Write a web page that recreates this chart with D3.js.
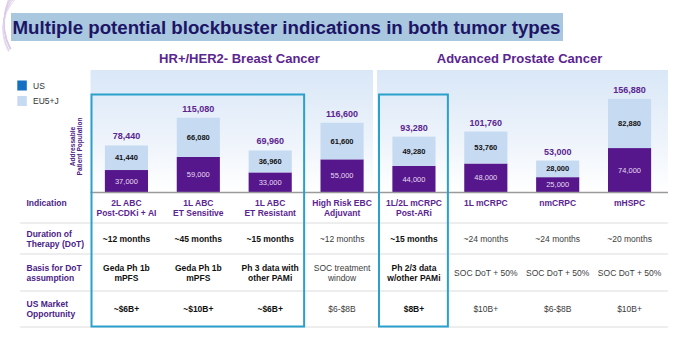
<!DOCTYPE html>
<html>
<head>
<meta charset="utf-8">
<script src="https://cdn.jsdelivr.net/npm/d3@7/dist/d3.min.js"></script>
<style>
  html, body { margin: 0; padding: 0; background: #fff; }
  svg { display: block; font-family: "Liberation Sans", Arial, Helvetica, sans-serif; }
</style>
</head>
<body>
<svg id="chart" width="680" height="337"></svg>
<script>
// ---------------- DATA ----------------
const titleText = "Multiple potential blockbuster indications in both tumor types";
const groupTitles = ["HR+/HER2- Breast Cancer", "Advanced Prostate Cancer"];
const categories = ["2L ABC Post-CDKi + AI", "1L ABC ET Sensitive", "1L ABC ET Resistant",
  "High Risk EBC Adjuvant", "1L/2L mCRPC Post-ARi", "1L mCRPC", "nmCRPC", "mHSPC"];
const indicationLines = [["2L ABC", "Post-CDKi + AI"], ["1L ABC", "ET Sensitive"], ["1L ABC", "ET Resistant"],
  ["High Risk EBC", "Adjuvant"], ["1L/2L mCRPC", "Post-ARi"], ["1L mCRPC"], ["nmCRPC"], ["mHSPC"]];
const usValues = [37000, 59000, 33000, 55000, 44000, 48000, 25000, 74000];
const euValues = [41440, 66080, 36960, 61600, 49280, 53760, 28000, 82880];
const totalLabels = ["78,440", "115,080", "69,960", "116,600", "93,280", "101,760", "53,000", "156,880"];
const durations = ["~12 months", "~45 months", "~15 months", "~12 months", "~15 months", "~24 months", "~24 months", "~20 months"];
const basisLines = [["Geda Ph 1b", "mPFS"], ["Geda Ph 1b", "mPFS"], ["Ph 3 data with", "other PAMi"],
  ["SOC treatment", "window"], ["Ph 2/3 data", "w/other PAMi"], ["SOC DoT + 50%"], ["SOC DoT + 50%"], ["SOC DoT + 50%"]];
const marketOpp = ["~$6B+", "~$10B+", "~$6B+", "$6-$8B", "$8B+", "$10B+", "$6-$8B", "$10B+"];
const highlighted = [true, true, true, false, true, false, false, false];
const rowLabels = [["Indication"], ["Duration of", "Therapy (DoT)"], ["Basis for DoT", "assumption"], ["US Market", "Opportunity"]];
const seriesNames = ["US", "EU5+J"];
const yAxisLabel = ["Addressable", "Patient Population"];

// ---------------- STYLE ----------------
const C = {
  purple: "#56168c",
  light: "#c6daf2",
  usLegend: "#1570c2",
  labelPurple: "#5b2590",
  rowPurple: "#4b2386",
  box: "#2aa0cc",
  titleText: "#1c1566",
  titleBg: "#a9c7df",
  grid: "#dcdcdc",
  base: "#9a9a9a",
  gray: "#3c3c3c"
};

const svg = d3.select("#chart");
const defs = svg.append("defs");
const grad = defs.append("linearGradient").attr("id", "panelGrad")
  .attr("x1", 0).attr("y1", 0).attr("x2", 0).attr("y2", 1);
grad.append("stop").attr("offset", "0%").attr("stop-color", "#d9e7f7");
grad.append("stop").attr("offset", "55%").attr("stop-color", "#edf3fb");
grad.append("stop").attr("offset", "100%").attr("stop-color", "#ffffff");

// decorative swirl arcs top-left
const arcG = svg.append("g").attr("fill", "none");
[[50, 28, 47], [53, 26, 49], [56, 24, 52], [48, 30, 45], [60, 22, 56]].forEach((a, i) => {
  const arc = d3.arc().innerRadius(a[2]).outerRadius(a[2]).startAngle(-Math.PI * 0.66).endAngle(-Math.PI * 0.2);
  arcG.append("path").attr("d", arc()).attr("transform", `translate(${a[0]},${a[1]})`)
    .attr("stroke", i % 2 ? "#e6daf0" : "#d9c9e8").attr("stroke-width", 0.8);
});

// Title
svg.append("rect").attr("x", 11).attr("y", 13).attr("width", 552).attr("height", 28).attr("fill", C.titleBg);
svg.append("text").attr("x", 12.5).attr("y", 33.5).attr("font-size", 18).attr("font-weight", "bold")
  .attr("fill", C.titleText).attr("textLength", 548).attr("lengthAdjust", "spacingAndGlyphs").text(titleText);

// Scales
const x = d3.scaleBand().domain(categories).range([90.5, 665.5]).paddingInner(0.4).paddingOuter(0.2);
const y = d3.scaleLinear().domain([0, 160000]).range([192, 97]);
const step = x.step();
const stepStart = i => x(categories[i]) - x.paddingInner() * step / 2;
const cx = i => x(categories[i]) + x.bandwidth() / 2;

// Panels
const leftPanel = [stepStart(0), stepStart(4) - 5];
const rightPanel = [stepStart(4) - 1, x.range()[1] + 2.5];
[leftPanel, rightPanel].forEach(p => {
  svg.append("rect").attr("x", p[0]).attr("y", 70).attr("width", p[1] - p[0]).attr("height", y(0) - 70)
    .attr("fill", "url(#panelGrad)");
});

// group titles
svg.append("text").attr("x", 239.5).attr("y", 62.5).attr("text-anchor", "middle").attr("font-size", 13)
  .attr("font-weight", "bold").attr("fill", C.labelPurple).text(groupTitles[0]);
svg.append("text").attr("x", 519.5).attr("y", 62.5).attr("text-anchor", "middle").attr("font-size", 13)
  .attr("font-weight", "bold").attr("fill", C.labelPurple).text(groupTitles[1]);

// Legend
const legend = svg.append("g");
[[C.usLegend, seriesNames[0], 80.5], [C.light, seriesNames[1], 96]].forEach(d => {
  legend.append("rect").attr("x", 17.3).attr("y", d[2]).attr("width", 9.5).attr("height", 10).attr("fill", d[0]);
  legend.append("text").attr("x", 33).attr("y", d[2] + 8).attr("font-size", 8.5).attr("fill", "#333").text(d[1]);
});

// Y axis label
const yl = svg.append("text").attr("transform", "translate(75.5,146.5) rotate(-90)")
  .attr("text-anchor", "middle").attr("font-size", 6.6).attr("font-weight", "bold").attr("fill", C.rowPurple);
yl.append("tspan").attr("x", 0).attr("dy", "-0.15em").text(yAxisLabel[0]);
yl.append("tspan").attr("x", 0).attr("dy", "1.15em").text(yAxisLabel[1]);

// Bars
const stackData = categories.map((c, i) => ({ cat: c, us: usValues[i], eu: euValues[i] }));
const stacked = d3.stack().keys(["us", "eu"])(stackData);
const barG = svg.append("g");
stacked.forEach((layer, li) => {
  barG.selectAll(null).data(layer).enter().append("rect")
    .attr("x", d => x(d.data.cat)).attr("width", x.bandwidth())
    .attr("y", d => y(d[1])).attr("height", d => y(d[0]) - y(d[1]))
    .attr("fill", li === 0 ? C.purple : C.light);
  barG.selectAll(null).data(layer).enter().append("text")
    .attr("x", d => x(d.data.cat) + x.bandwidth() / 2)
    .attr("y", d => (y(d[0]) + y(d[1])) / 2).attr("dy", "0.35em")
    .attr("text-anchor", "middle").attr("font-size", 7.5)
    .attr("font-weight", li === 0 ? "normal" : "bold")
    .attr("fill", li === 0 ? "#e6ddf0" : "#111")
    .text(d => d3.format(",")(d.data[li === 0 ? "us" : "eu"]));
});
barG.selectAll(null).data(stackData).enter().append("text")
  .attr("x", d => x(d.cat) + x.bandwidth() / 2)
  .attr("y", d => y(d.us + d.eu) - 6)
  .attr("text-anchor", "middle").attr("font-size", 9).attr("font-weight", "bold").attr("fill", C.labelPurple)
  .text((d, i) => totalLabels[i]);

// baseline
svg.append("line").attr("x1", leftPanel[0]).attr("x2", rightPanel[1]).attr("y1", y(0) + 0.5).attr("y2", y(0) + 0.5)
  .attr("stroke", C.base).attr("stroke-width", 1.5);

// Table
const seps = [223, 254, 291, 327];
seps.forEach(s => svg.append("line").attr("x1", 20).attr("x2", rightPanel[1]).attr("y1", s).attr("y2", s)
  .attr("stroke", C.grid).attr("stroke-width", 1));

const rowCenters = [208, 239, 273, 309];
const lineH = 10;
function multiText(g, lines, xPos, yc, anchor, opts) {
  const start = yc - (lines.length - 1) * lineH / 2;
  lines.forEach((l, k) => {
    g.append("text").attr("x", xPos).attr("y", start + k * lineH).attr("dy", "0.35em")
      .attr("text-anchor", anchor).attr("font-size", opts.size || 8.5)
      .attr("font-weight", opts.bold ? "bold" : "normal").attr("fill", opts.color).text(l);
  });
}
const tbl = svg.append("g");
rowLabels.forEach((lines, r) => {
  const yc = r === 0 ? 203 : rowCenters[r];
  multiText(tbl, lines, 26.5, yc, "start", { bold: true, color: C.rowPurple });
});
indicationLines.forEach((lines, i) => {
  const yc = lines.length === 1 ? 203 : 208;
  multiText(tbl, lines, cx(i), yc, "middle", { bold: true, color: C.labelPurple });
});
durations.forEach((t, i) => multiText(tbl, [t], cx(i), rowCenters[1], "middle",
  { bold: highlighted[i], color: highlighted[i] ? "#111" : C.gray }));
basisLines.forEach((lines, i) => multiText(tbl, lines, cx(i), rowCenters[2], "middle",
  { bold: highlighted[i], color: highlighted[i] ? "#111" : C.gray }));
marketOpp.forEach((t, i) => multiText(tbl, [t], cx(i), rowCenters[3], "middle",
  { bold: highlighted[i], color: highlighted[i] ? "#111" : C.gray }));

// Highlight boxes
const boxes = [[0, 2], [4, 4]];
boxes.forEach(b => {
  const x0 = stepStart(b[0]) + 1;
  const x1 = stepStart(b[1]) + step - 2;
  svg.append("rect").attr("x", x0).attr("y", 94.5).attr("width", x1 - x0).attr("height", 326.5 - 94.5)
    .attr("fill", "none").attr("stroke", C.box).attr("stroke-width", 2);
});
</script>
</body>
</html>
